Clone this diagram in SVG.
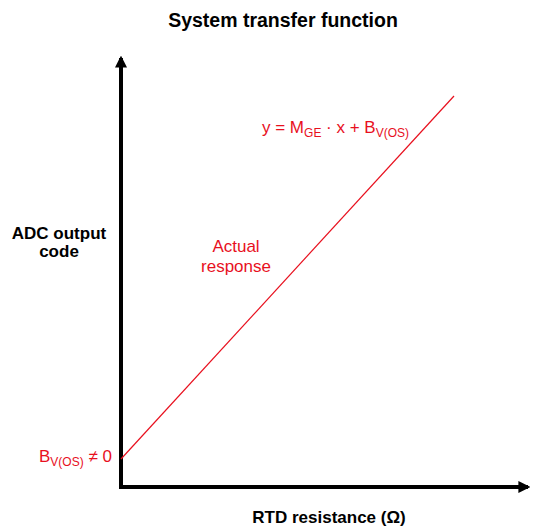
<svg xmlns="http://www.w3.org/2000/svg" width="533" height="527" viewBox="0 0 533 527">
<style>
.t{font-family:"Liberation Sans",Arial,sans-serif;}
.b{font-weight:bold;fill:#000;}
.r{fill:#e8101e;}
.ax{stroke:#000;stroke-width:4;fill:none;}
</style>
<defs>
<marker id="ah" viewBox="0 0 10 10" refX="8" refY="5" markerWidth="3" markerHeight="3" orient="auto" markerUnits="strokeWidth">
<path d="M0,0 L10,5 L0,10 z" fill="#000"/>
</marker>
</defs>
<rect width="533" height="527" fill="#fff"/>
<text class="t b" x="283" y="27" font-size="19.5" text-anchor="middle">System transfer function</text>
<g id="axes">
<path class="ax" d="M121,487 L121,58" marker-end="url(#ah)"/>
<path class="ax" d="M119,487 L528,487" marker-end="url(#ah)"/>
</g>
<g id="connectors">
<line x1="121" y1="459" x2="454" y2="96" stroke="#e8101e" stroke-width="1.2"/>
</g>
<text class="t b" x="59" y="239" font-size="17" text-anchor="middle">ADC output</text>
<text class="t b" x="59" y="257" font-size="17" text-anchor="middle">code</text>
<text class="t b" x="329" y="523" font-size="17" text-anchor="middle">RTD resistance (Ω)</text>
<text class="t r" x="236" y="252" font-size="17" text-anchor="middle">Actual</text>
<text class="t r" x="236" y="272" font-size="17" text-anchor="middle">response</text>
<text class="t r" x="262" y="133" font-size="17">y = M<tspan font-size="12" dy="4">GE</tspan><tspan dy="-4"> · x + B</tspan><tspan font-size="12" dy="4">V(OS)</tspan></text>
<text class="t r" x="39" y="462" font-size="17">B<tspan font-size="12" dy="4">V(OS)</tspan><tspan dy="-4"> ≠ 0</tspan></text>
</svg>
